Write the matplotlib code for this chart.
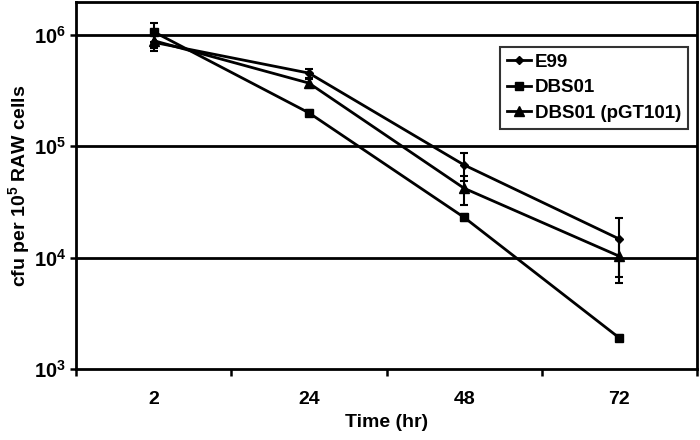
import matplotlib
matplotlib.use("Agg")
import matplotlib.pyplot as plt
from matplotlib.lines import Line2D
import numpy as np

plt.rcParams['font.family'] = ['Liberation Sans', 'DejaVu Sans']
plt.rcParams['font.weight'] = 'bold'
plt.rcParams['mathtext.fontset'] = 'custom'
plt.rcParams['mathtext.rm'] = 'Liberation Sans:bold'
plt.rcParams['mathtext.bf'] = 'Liberation Sans:bold'
plt.rcParams['mathtext.it'] = 'Liberation Sans:bold'

categories = ['2', '24', '48', '72']
series_names = ['E99', 'DBS01', 'DBS01 (pGT101)']
e99 = [8.6e5, 4.55e5, 6.8e4, 1.47e4]
e99_err = [1.4e5, 0.4e5, 1.9e4, 0.8e4]
dbs01 = [1.07e6, 2.0e5, 2.3e4, 1.9e3]
dbs01_err = [2.1e5, 0.1e5, 0.15e4, 0.1e3]
pgt = [8.9e5, 3.7e5, 4.2e4, 1.03e4]
pgt_err = [1.2e5, 0.35e5, 1.2e4, 0.44e4]
ytick_vals = [1e3, 1e4, 1e5, 1e6]

fig = plt.figure(figsize=(7.0, 4.4), dpi=100)
ax = fig.add_axes([76/700, 1-369/440, (697-76)/700, (369-2)/440])

x = np.arange(len(categories))
styles = [('D', 4), ('s', 6), ('^', 6.5)]
handles = []
for vals, err, name, (m, ms) in zip([e99, dbs01, pgt], [e99_err, dbs01_err, pgt_err], series_names, styles):
    ax.errorbar(x, vals, yerr=err, color='black', lw=2, marker=m, ms=ms,
                capsize=3, elinewidth=1.5, capthick=1.5, zorder=3)
    handles.append(Line2D([], [], color='black', lw=2, marker=m, ms=ms, label=name))

ax.set_yscale('log')
ax.set_ylim(1e3, 10**(6 + 33/111.3))
ax.set_xlim(-0.5, len(categories) - 0.5)

ax.set_yticks(ytick_vals)
ax.set_yticklabels([r'$\mathbf{10^{%d}}$' % int(np.log10(v)) for v in ytick_vals], fontsize=14.5)
ax.yaxis.set_minor_locator(matplotlib.ticker.NullLocator())
for v in ytick_vals[1:]:
    ax.axhline(v, color='black', lw=2, zorder=1)

ax.set_xticks(np.arange(-0.5, len(categories)))
ax.set_xticklabels([''] * (len(categories) + 1))
ax.set_xticks(x, minor=True)
ax.set_xticklabels(categories, minor=True, fontsize=14, fontweight='bold')
ax.tick_params(axis='x', which='major', length=5, width=1.8, direction='out')
ax.tick_params(axis='x', which='minor', length=0, pad=16)
ax.tick_params(axis='y', which='major', length=4, width=1.8, direction='out', pad=3)

for s in ax.spines.values():
    s.set_linewidth(2)
    s.set_color('black')

ax.set_xlabel('Time (hr)', fontsize=14, fontweight='bold', labelpad=4)
ax.set_ylabel(r'cfu per 10$^{5}$ RAW cells', fontsize=14, fontweight='bold', labelpad=1)

leg = ax.legend(handles=handles, loc='upper right', bbox_to_anchor=(0.9855, 0.877), fontsize=13.5,
                frameon=True, fancybox=False, handlelength=1.3, handletextpad=0.2,
                borderpad=0.35, labelspacing=0.45, borderaxespad=0)
leg.get_frame().set_edgecolor('black')
leg.get_frame().set_linewidth(1.5)
for t in leg.get_texts():
    t.set_fontweight('bold')

fig.savefig('out.png', dpi=100)
